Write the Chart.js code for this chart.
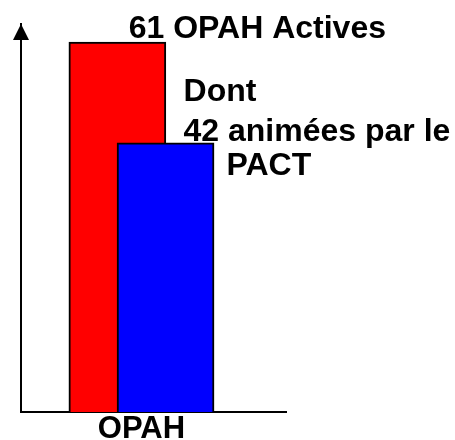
<!DOCTYPE html>
<html>
<head>
<meta charset="utf-8">
<script src="https://cdn.jsdelivr.net/npm/chart.js@4"></script>
<style>
    body { margin: 0; background: #fff; }
    #wrap { width: 455px; height: 440px; }
</style>
</head>
<body>
<div id="wrap"><canvas id="opahChart"></canvas></div>
<script>
const categories = ['OPAH'];
const seriesNames = ['OPAH Actives', 'animées par le PACT'];
const activeValues = [61];
const pactValues = [44.4];
const titleLines = ['61 OPAH Actives'];
const pactLines = ['Dont', '42 animées par le', 'PACT'];

const FONT = '"Liberation Sans", Arial, sans-serif';

// arrow head on the value axis + the two text callouts
const calloutPlugin = {
    id: 'callouts',
    afterDraw(chart) {
        const ctx = chart.ctx;
        const area = chart.chartArea;
        const x0 = area.left;

        ctx.save();
        ctx.fillStyle = '#000';
        ctx.beginPath();
        ctx.moveTo(x0, area.top);
        ctx.lineTo(x0 - 8, area.top + 16);
        ctx.lineTo(x0 + 8, area.top + 16);
        ctx.closePath();
        ctx.fill();

        ctx.font = 'bold 32px ' + FONT;
        ctx.textBaseline = 'alphabetic';

        const red = chart.getDatasetMeta(1).data[0];
        ctx.textAlign = 'center';
        ctx.fillText(titleLines[0], red.x + 140, red.y - 4);

        const blue = chart.getDatasetMeta(0).data[0];
        ctx.textAlign = 'left';
        ctx.fillText(pactLines[0], blue.x + 18, blue.y - 42);
        ctx.fillText(pactLines[1], blue.x + 18, blue.y - 2);
        ctx.fillText(pactLines[2], blue.x + 61, blue.y + 32);
        ctx.restore();
    }
};

const chartData = {
    datasets: [
        {
            label: seriesNames[1],
            data: pactValues.map(v => ({ x: 6, y: v })),
            backgroundColor: '#0000ff',
            borderColor: '#000',
            borderWidth: 2,
            order: 0
        },
        {
            label: seriesNames[0],
            data: activeValues.map(v => ({ x: 4, y: v })),
            backgroundColor: '#ff0000',
            borderColor: '#000',
            borderWidth: 2,
            order: 1
        }
    ]
};

const chartConfig = {
    type: 'bar',
    data: chartData,
    plugins: [calloutPlugin],
    options: {
        responsive: true,
        maintainAspectRatio: false,
        animation: false,
        grouped: false,
        barThickness: 97,
        // label below the axis runs off the bottom edge, like the original
        layout: { padding: { left: 21, right: 169, top: 24, bottom: -6 } },
        plugins: { legend: { display: false }, tooltip: { enabled: false } },
        scales: {
            x: {
                type: 'linear',
                min: 0,
                max: 11,
                offset: false,
                grid: { display: false, drawTicks: false },
                border: { display: true, color: '#000', width: 2 },
                afterBuildTicks: (axis) => { axis.ticks = [{ value: 5 }]; },
                ticks: {
                    padding: 6,
                    color: '#000',
                    font: { family: FONT, size: 31, weight: 'bold', lineHeight: 0.71 },
                    callback: () => categories[0]
                }
            },
            y: {
                min: 0,
                max: 64,
                grid: { display: false, drawTicks: false },
                border: { display: true, color: '#000', width: 2 },
                ticks: { display: false }
            }
        }
    }
};

const opahChart = new Chart(document.getElementById('opahChart'), chartConfig);
</script>
</body>
</html>
